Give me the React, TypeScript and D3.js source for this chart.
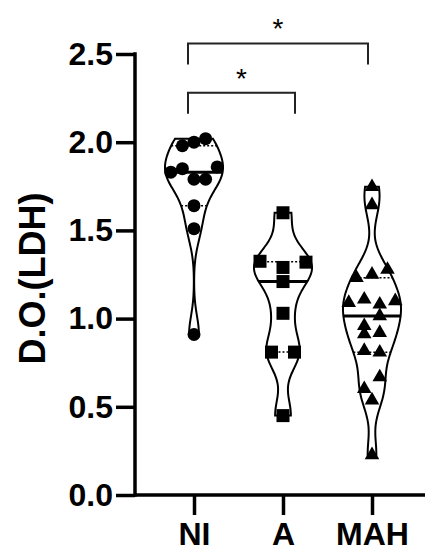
import { useEffect, useRef } from 'react';
import * as d3 from 'd3';

// groups and values
const groups = ['NI', 'A', 'MAH'];
const niValues = [1.98, 2.0, 2.02, 1.83, 1.85, 1.79, 1.79, 1.86, 1.64, 1.51, 0.91];
const aValues = [1.6, 1.325, 1.29, 1.32, 1.21, 1.03, 0.81, 0.81, 0.45];
const mahValues = [
  1.747, 1.644, 1.231, 1.25, 1.278, 1.09, 1.109, 1.081, 1.1, 0.959, 1.015,
  0.912, 0.92, 0.818, 0.809, 0.602, 0.668, 0.537, 0.227,
];
const yTicks = [0, 0.5, 1.0, 1.5, 2.0, 2.5];
const yLabel = 'D.O.(LDH)';
const comparisons = [
  { from: 'NI', to: 'A', level: 2.28, label: '*' },
  { from: 'NI', to: 'MAH', level: 2.56, label: '*' },
];

// styles per group (marker shape, spacing of side-by-side points)
const groupStyle = {
  NI: { shape: 'circle', spacing: 11.6 },
  A: { shape: 'square', spacing: 23 },
  MAH: { shape: 'triangle', spacing: 15.5 },
};

const FONT = "Arial, 'Liberation Sans', Helvetica, sans-serif";

// Prism style quantile: position p*(n+1)
const quantile = (sorted: number[], p: number) => {
  const pos = p * (sorted.length + 1) - 1;
  const lo = Math.max(0, Math.min(sorted.length - 1, Math.floor(pos)));
  const hi = Math.max(0, Math.min(sorted.length - 1, Math.ceil(pos)));
  return sorted[lo] + (sorted[hi] - sorted[lo]) * (pos - Math.floor(pos));
};

const App = () => {
  const ref = useRef<SVGSVGElement>(null);

  useEffect(() => {
    const width = 425;
    const height = 553;
    const svg = d3.select(ref.current);
    svg.selectAll('*').remove();

    const x = d3.scalePoint<string>().domain(groups).range([194, 372]);
    const y = d3.scaleLinear().domain([0, 2.5]).range([495, 54]);

    const data: Record<string, number[]> = { NI: niValues, A: aValues, MAH: mahValues };
    const bandwidth = 0.105;
    const maxHalf = 29;

    // violins
    groups.forEach((g) => {
      const vals = data[g];
      const sorted = vals.slice().sort(d3.ascending);
      const lo = sorted[0];
      const hi = sorted[sorted.length - 1];
      const kde = (v: number) =>
        d3.sum(vals, (xi) => Math.exp(-0.5 * ((v - xi) / bandwidth) ** 2));
      const grid = d3.range(0, 101).map((i) => lo + ((hi - lo) * i) / 100);
      const dens = grid.map((v) => ({ v, d: kde(v) }));
      const maxD = d3.max(dens, (d) => d.d) as number;
      const w = d3.scaleLinear().domain([0, maxD]).range([0, maxHalf]);
      const cx = x(g) as number;

      const area = d3
        .area<{ v: number; d: number }>()
        .y((d) => y(d.v))
        .x0((d) => cx - w(d.d))
        .x1((d) => cx + w(d.d))
        .curve(d3.curveCatmullRom);

      svg
        .append('path')
        .attr('d', area(dens))
        .attr('fill', '#fff')
        .attr('stroke', '#000')
        .attr('stroke-width', 2);

      // quartile lines (dotted) and median (solid)
      [0.25, 0.75].forEach((p) => {
        const q = quantile(sorted, p);
        const hw = w(kde(q));
        svg
          .append('line')
          .attr('x1', cx - hw)
          .attr('x2', cx + hw)
          .attr('y1', y(q))
          .attr('y2', y(q))
          .attr('stroke', '#000')
          .attr('stroke-width', 1.5)
          .attr('stroke-dasharray', '2 2');
      });
      const med = d3.median(sorted) as number;
      const mw = w(kde(med));
      svg
        .append('line')
        .attr('x1', cx - mw)
        .attr('x2', cx + mw)
        .attr('y1', y(med))
        .attr('y2', y(med))
        .attr('stroke', '#000')
        .attr('stroke-width', 3);

      // points: group values that would overlap into rows, spread them side by side
      const idx = vals.map((v, i) => ({ v, i })).sort((a, b) => b.v - a.v);
      const rows: { v: number; i: number }[][] = [];
      idx.forEach((p) => {
        const row = rows[rows.length - 1];
        if (row && row[0].v - p.v < 0.075) row.push(p);
        else rows.push([p]);
      });
      const st = groupStyle[g as keyof typeof groupStyle];
      const pts: { v: number; px: number }[] = [];
      rows.forEach((row) => {
        row.sort((a, b) => a.i - b.i);
        row.forEach((p, k) => {
          pts.push({ v: p.v, px: cx + (k - (row.length - 1) / 2) * st.spacing });
        });
      });

      const gp = svg.append('g').attr('fill', '#000');
      if (st.shape === 'circle') {
        gp.selectAll('circle')
          .data(pts)
          .join('circle')
          .attr('cx', (d) => d.px)
          .attr('cy', (d) => y(d.v))
          .attr('r', 6.5);
      } else if (st.shape === 'square') {
        gp.selectAll('rect')
          .data(pts)
          .join('rect')
          .attr('x', (d) => d.px - 6.5)
          .attr('y', (d) => y(d.v) - 6.5)
          .attr('width', 13)
          .attr('height', 13);
      } else {
        const tri = d3.symbol().type(d3.symbolTriangle).size(92);
        gp.selectAll('path')
          .data(pts)
          .join('path')
          .attr('transform', (d) => `translate(${d.px},${y(d.v)})`)
          .attr('d', tri());
      }
    });

    // y axis
    const yAxis = svg
      .append('g')
      .attr('transform', 'translate(135,0)')
      .call(
        d3
          .axisLeft(y)
          .tickValues(yTicks)
          .tickFormat(d3.format('.1f'))
          .tickSize(19)
          .tickSizeOuter(0)
          .tickPadding(3)
      );
    yAxis.select('.domain').remove();
    yAxis.selectAll('line').attr('stroke', '#000').attr('stroke-width', 3.5);
    yAxis
      .selectAll('text')
      .attr('fill', '#000')
      .style('font-family', FONT)
      .style('font-size', '32px')
      .style('font-weight', 'bold');
    svg
      .append('line')
      .attr('x1', 135)
      .attr('x2', 135)
      .attr('y1', y(2.5) - 1.75)
      .attr('y2', y(0) + 1.75)
      .attr('stroke', '#000')
      .attr('stroke-width', 3.5);

    // x axis
    const xAxis = svg
      .append('g')
      .attr('transform', `translate(0,${y(0)})`)
      .call(d3.axisBottom(x).tickSize(20).tickSizeOuter(0).tickPadding(7));
    xAxis.select('.domain').remove();
    xAxis.selectAll('line').attr('stroke', '#000').attr('stroke-width', 3.5);
    xAxis
      .selectAll('text')
      .attr('fill', '#000')
      .style('font-family', FONT)
      .style('font-size', '32px')
      .style('font-weight', 'bold');
    svg
      .append('line')
      .attr('x1', 135)
      .attr('x2', width)
      .attr('y1', y(0))
      .attr('y2', y(0))
      .attr('stroke', '#000')
      .attr('stroke-width', 3.5);

    // y label
    svg
      .append('text')
      .attr('transform', `translate(45,${(y(0) + y(2.5)) / 2 + 4}) rotate(-90)`)
      .attr('text-anchor', 'middle')
      .style('font-family', FONT)
      .style('font-size', '36px')
      .style('font-weight', 'bold')
      .text(yLabel);

    // significance brackets
    comparisons.forEach((c) => {
      const x1 = (x(c.from) as number) - 6;
      const x2 = c.to === 'A' ? (x(c.to) as number) + 12 : (x(c.to) as number) - 4;
      const yl = y(c.level);
      svg
        .append('path')
        .attr('d', `M${x1},${yl + 21}V${yl}H${x2}V${yl + 21}`)
        .attr('fill', 'none')
        .attr('stroke', '#222')
        .attr('stroke-width', 2);
      svg
        .append('text')
        .attr('x', (x1 + x2) / 2)
        .attr('y', yl - 5)
        .attr('text-anchor', 'middle')
        .style('font-family', FONT)
        .style('font-size', '28px')
        .text(c.label);
    });

    svg.attr('width', width).attr('height', height);
  }, []);

  return (
    <svg
      ref={ref}
      width={425}
      height={553}
      style={{ position: 'absolute', left: 0, top: 0, background: '#fff' }}
    />
  );
};

export default App;
